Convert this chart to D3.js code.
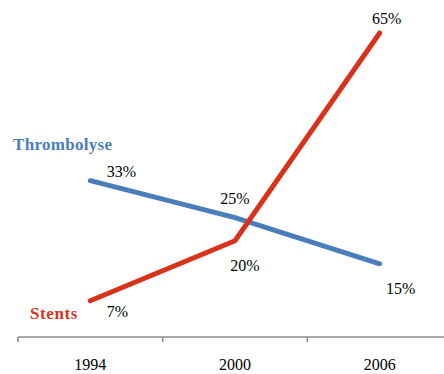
<!DOCTYPE html>
<html>
<head>
<meta charset="utf-8">
<script src="https://cdn.jsdelivr.net/npm/d3@7"></script>
<style>
  html, body { margin: 0; padding: 0; background: #fff; }
  svg { display: block; font-family: "Liberation Serif", "Times New Roman", serif; }
</style>
</head>
<body>
<svg id="chart" width="444" height="374"></svg>
<script>
// Share of treatment (%) by year
const years = ["1994", "2000", "2006"];
const thrombolyse = [33, 25, 15];
const stents = [7, 20, 65];
const seriesNames = ["Thrombolyse", "Stents"];
const seriesColors = ["#4a7ebb", "#d8321a"];

const svg = d3.select("#chart");
const axisY = 337;

const x = d3.scaleBand().domain(years).range([18, 452]);
const y = d3.scaleLinear().domain([0, 65]).range([333, 33]);
const cx = d => x(d) + x.bandwidth() / 2;

// x axis: labels centred in each band, tick marks on band boundaries
const axisG = svg.append("g").attr("transform", `translate(0,${axisY})`);
axisG.append("line")
  .attr("x1", x.range()[0]).attr("x2", x.range()[1])
  .attr("stroke", "#8c8c8c").attr("stroke-width", 1.6);
const bounds = years.map(d => x(d)).concat([x.range()[1]]);
axisG.selectAll("line.tick").data(bounds).join("line")
  .attr("class", "tick")
  .attr("x1", d => d).attr("x2", d => d)
  .attr("y1", 0).attr("y2", 5)
  .attr("stroke", "#8c8c8c").attr("stroke-width", 1.6);
axisG.selectAll("text").data(years).join("text")
  .attr("x", d => cx(d)).attr("y", 33)
  .attr("text-anchor", "middle")
  .attr("font-size", 16).attr("fill", "#000")
  .text(d => d);

const line = d3.line().x((v, i) => cx(years[i])).y(v => y(v));

[thrombolyse, stents].forEach((vals, k) => {
  svg.append("path")
    .datum(vals)
    .attr("d", line)
    .attr("fill", "none")
    .attr("stroke", seriesColors[k])
    .attr("stroke-width", 5)
    .attr("stroke-linecap", "round")
    .attr("stroke-linejoin", "miter");
});

// value labels: [dx, dy] offsets from each point
const blueOffsets = [[31, -4], [0, -14], [21, 30]];
const redOffsets = [[27, 16], [10, 30], [7, -9]];
function valueLabels(vals, offs) {
  svg.append("g").selectAll("text").data(vals).join("text")
    .attr("x", (v, i) => cx(years[i]) + offs[i][0])
    .attr("y", (v, i) => y(v) + offs[i][1])
    .attr("text-anchor", "middle")
    .attr("font-size", 16).attr("fill", "#000")
    .text(v => v + "%");
}
valueLabels(thrombolyse, blueOffsets);
valueLabels(stents, redOffsets);

// series names
svg.append("text")
  .attr("x", 13).attr("y", 150)
  .attr("font-size", 17).attr("font-weight", "bold")
  .attr("letter-spacing", 0.3)
  .attr("fill", seriesColors[0])
  .text(seriesNames[0]);
svg.append("text")
  .attr("x", 30).attr("y", 319)
  .attr("font-size", 17).attr("font-weight", "bold")
  .attr("letter-spacing", 0.6)
  .attr("fill", seriesColors[1])
  .text(seriesNames[1]);
</script>
</body>
</html>
